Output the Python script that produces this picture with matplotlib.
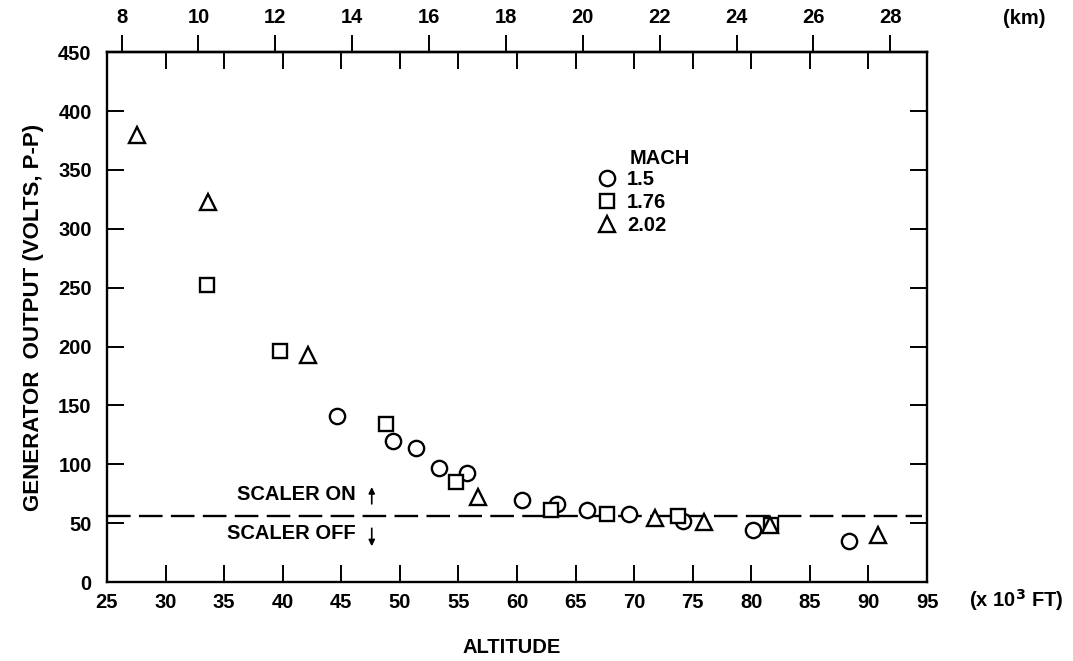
import matplotlib
matplotlib.use("Agg")
import matplotlib.pyplot as plt

plt.rcParams['font.family'] = ['Liberation Sans', 'DejaVu Sans']
plt.rcParams['font.weight'] = 'bold'
plt.rcParams['axes.labelweight'] = 'bold'
plt.rcParams['lines.scale_dashes'] = False

# altitude (x 10^3 ft) and generator output (volts p-p) for each Mach number
alt_m150 = [44.6, 49.4, 51.4, 53.3, 55.7, 60.4, 63.4, 66.0, 69.6, 74.2, 80.1, 88.3]
out_m150 = [141, 120, 114, 97, 93, 70, 66, 61, 58, 52, 44, 35]
alt_m176 = [33.5, 39.8, 48.8, 54.8, 62.9, 67.7, 73.7, 81.7]
out_m176 = [252, 196, 134, 85, 61, 58, 56, 48]
alt_m202 = [27.6, 33.6, 42.2, 56.7, 71.8, 76.0, 81.6, 90.8]
out_m202 = [380, 323, 193, 72, 54, 51, 48, 40]

scaler_level = 56
ft_ticks = list(range(25, 100, 5))
volt_ticks = list(range(0, 500, 50))
km_ticks = list(range(8, 30, 2))

fs = 14.5

fig = plt.figure(figsize=(10.73, 6.61), dpi=100)
ax = fig.add_axes([0.0997, 0.1195, 0.7643, 0.8015])

mk = dict(linestyle='none', markerfacecolor='white', markeredgecolor='black',
          markeredgewidth=1.7, color='black')
h1, = ax.plot(alt_m150, out_m150, marker='o', markersize=11, label='1.5', **mk)
h2, = ax.plot(alt_m176, out_m176, marker='s', markersize=10.5, label='1.76', **mk)
h3, = ax.plot(alt_m202, out_m202, marker='^', markersize=12, label='2.02', **mk)

# scaler switching threshold
ax.plot([25, 94.6], [scaler_level, scaler_level], color='black', lw=1.7,
        dashes=(17, 6), zorder=1)
ax.text(46.2, 74, 'SCALER ON', ha='right', va='center', fontsize=fs)
ax.text(46.2, 41, 'SCALER OFF', ha='right', va='center', fontsize=fs)
ax.annotate('', xy=(47.6, 83), xytext=(47.6, 64),
            arrowprops=dict(arrowstyle='-|>', color='black', lw=1.2,
                            mutation_scale=9))
ax.annotate('', xy=(47.6, 28), xytext=(47.6, 48),
            arrowprops=dict(arrowstyle='-|>', color='black', lw=1.2,
                            mutation_scale=9))

ax.set_xlim(25, 95)
ax.set_ylim(0, 450)
ax.set_xticks(ft_ticks)
ax.set_yticks(volt_ticks)
ax.tick_params(direction='in', length=12, width=1.4, top=True, right=True,
               labelsize=fs, pad=8)
ax.tick_params(axis='y', pad=11)
for s in ax.spines.values():
    s.set_linewidth(1.7)

# kilometre scale on top
sec = ax.secondary_xaxis('top', functions=(lambda x: x * 0.3048,
                                           lambda k: k / 0.3048))
sec.set_xticks(km_ticks)
sec.tick_params(direction='out', length=12, width=1.4, labelsize=fs, pad=6)
sec.spines['top'].set_linewidth(1.7)

ax.set_ylabel('GENERATOR  OUTPUT (VOLTS, P-P)', fontsize=16, labelpad=10)
fig.text(0.477, 0.02, 'ALTITUDE', fontsize=fs, ha='center', va='center')
fig.text(0.903, 0.092, '(x 10$^3$ FT)', fontsize=fs, ha='left', va='center')
fig.text(0.935, 0.972, '(km)', fontsize=fs, ha='left', va='center')

leg = ax.legend(handles=[h1, h2, h3], loc='center left',
                bbox_to_anchor=(0.597, 0.716), frameon=False, fontsize=fs,
                handlelength=1.0, handletextpad=0.5, labelspacing=0.2,
                borderpad=0, borderaxespad=0)
ax.text(69.6, 360, 'MACH', ha='left', va='center', fontsize=fs)

fig.savefig('out.png', dpi=100, facecolor='white')
